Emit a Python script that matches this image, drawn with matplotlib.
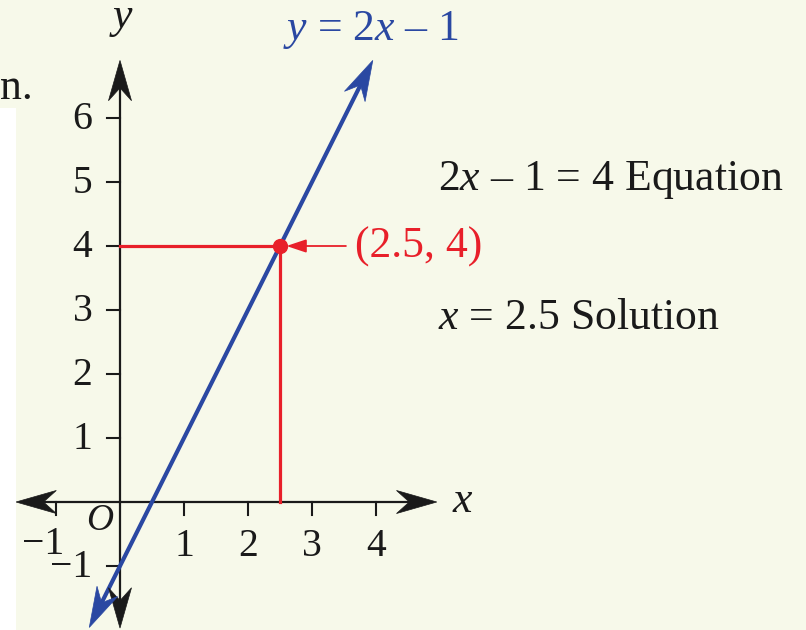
import numpy as np
import matplotlib
matplotlib.use("Agg")
import matplotlib.pyplot as plt
from matplotlib.patches import Polygon, Rectangle

plt.rcParams['font.family'] = ['Liberation Serif', 'DejaVu Serif']
plt.rcParams['mathtext.fontset'] = 'custom'
plt.rcParams['mathtext.rm'] = 'Liberation Serif'
plt.rcParams['mathtext.it'] = 'Liberation Serif:italic'

# ---- data ----
slope = 2
intercept = -1
x_line = [-0.48, 3.95]          # line drawn between these x values (arrow tips)
x_axis_range = [-1.625, 4.95]
y_axis_range = [-1.97, 6.9]
x_ticks = [-1, 1, 2, 3, 4]
y_ticks = [-1, 1, 2, 3, 4, 5, 6]
sol_x = 2.5
sol_y = 4

BG = '#F7F9EA'
BLUE = '#2A48A2'
RED = '#E8202A'
BLACK = '#1A1A1A'

fig = plt.figure(figsize=(8.06, 6.30), dpi=100, facecolor=BG)
ax = fig.add_axes([0, 0, 1, 1])
ax.set_facecolor(BG)
ppu = 64.0
ax.set_xlim(-120 / ppu, (806 - 120) / ppu)
ax.set_ylim(-(630 - 502) / ppu, 502 / ppu)
ax.set_aspect('equal')
ax.axis('off')

# white strip at lower-left
fig.patches.append(Rectangle((0, 0), 16 / 806, (630 - 108) / 630,
                             transform=fig.transFigure, facecolor='white',
                             edgecolor='none', zorder=0))


def arrowhead(tip, direction, color, length=0.63, half_w=0.18, notch=0.2, z=5):
    d = np.array(direction, float)
    d /= np.hypot(*d)
    n = np.array([-d[1], d[0]])
    tip = np.array(tip, float)
    base = tip - d * length
    pts = [tip, base + n * half_w, tip - d * (length - notch), base - n * half_w]
    ax.add_patch(Polygon(pts, closed=True, facecolor=color, edgecolor=color,
                         lw=0.5, zorder=z))


# axes
ax.plot([x_axis_range[0] + 0.4, x_axis_range[1] - 0.4], [0, 0], color=BLACK, lw=1.6, zorder=3)
ax.plot([0, 0], [y_axis_range[0] + 0.4, y_axis_range[1] - 0.4], color=BLACK, lw=1.6, zorder=3)
arrowhead((x_axis_range[1], 0), (1, 0), BLACK)
arrowhead((x_axis_range[0], 0), (-1, 0), BLACK)
arrowhead((0, y_axis_range[1]), (0, 1), BLACK)
arrowhead((0, y_axis_range[0]), (0, -1), BLACK)

tick_len = 13 / ppu
for t in x_ticks:
    ax.plot([t, t], [0, -tick_len], color=BLACK, lw=1.5, zorder=3)
for t in y_ticks:
    ax.plot([0, -tick_len], [t, t], color=BLACK, lw=1.5, zorder=3)

fs_tick = 28.5
for t in x_ticks:
    if t < 0:
        ax.text(t + 0.13, -0.67, f'\u2212{abs(t)}', ha='right', va='center', fontsize=fs_tick, color=BLACK)
    else:
        ax.text(t, -0.69, f'{t}', ha='center', va='center', fontsize=fs_tick, color=BLACK)
for t in y_ticks:
    lab = f'\u2212{abs(t)}' if t < 0 else f'{t}'
    ax.text(-0.43, t - 0.03, lab, ha='right', va='center', fontsize=fs_tick, color=BLACK)

# line y = 2x - 1
xs = np.array(x_line)
ys = slope * xs + intercept
d = np.array([xs[1] - xs[0], ys[1] - ys[0]])
d /= np.hypot(*d)
ax.plot([xs[0] + d[0] * 0.4, xs[1] - d[0] * 0.4], [ys[0] + d[1] * 0.4, ys[1] - d[1] * 0.4],
        color=BLUE, lw=3.0, zorder=4, solid_capstyle='butt')
arrowhead((xs[1], ys[1]), d, BLUE)
arrowhead((xs[0], ys[0]), -d, BLUE)

# solution guide lines
ax.plot([0, sol_x], [sol_y, sol_y], color=RED, lw=2.3, zorder=3.5)
ax.plot([sol_x, sol_x], [0, sol_y], color=RED, lw=2.3, zorder=3.5)
ax.plot([sol_x], [sol_y], 'o', color=RED, ms=10, zorder=6)
ax.annotate('', xy=(sol_x + 0.1, sol_y), xytext=(sol_x + 1.03, sol_y),
            arrowprops=dict(arrowstyle='-|>,head_length=0.6,head_width=0.2', color=RED, lw=1.3,
                            mutation_scale=20, shrinkA=0, shrinkB=0), zorder=6)
ax.text(sol_x + 1.17, sol_y - 0.02, f'({sol_x}, {sol_y})', ha='left', va='center',
        fontsize=31.5, color=RED)

# labels
fs = 31.5
ax.text(0.03, 7.55, r'$y$', ha='center', va='center', fontsize=fs, color=BLACK)
ax.text(5.36, 0.02, r'$x$', ha='center', va='center', fontsize=fs, color=BLACK)
ax.text(-0.31, -0.30, r'$O$', ha='center', va='center', fontsize=27, color=BLACK)
ax.text(2.55, 7.38, '$y$ = 2$x$ \u2013 1', ha='left', va='center', fontsize=fs, color=BLUE)
ax.text(4.97, 5.03, '2$x$ \u2013 1 = 4 Equation', ha='left', va='center', fontsize=fs, color=BLACK)
ax.text(4.97, 2.87, '$x$ = 2.5 Solution', ha='left', va='center', fontsize=fs, color=BLACK)
ax.text(-1.875, 6.47, 'n.', ha='left', va='center', fontsize=fs, color=BLACK)

fig.savefig('out.png', dpi=100, facecolor=BG)
